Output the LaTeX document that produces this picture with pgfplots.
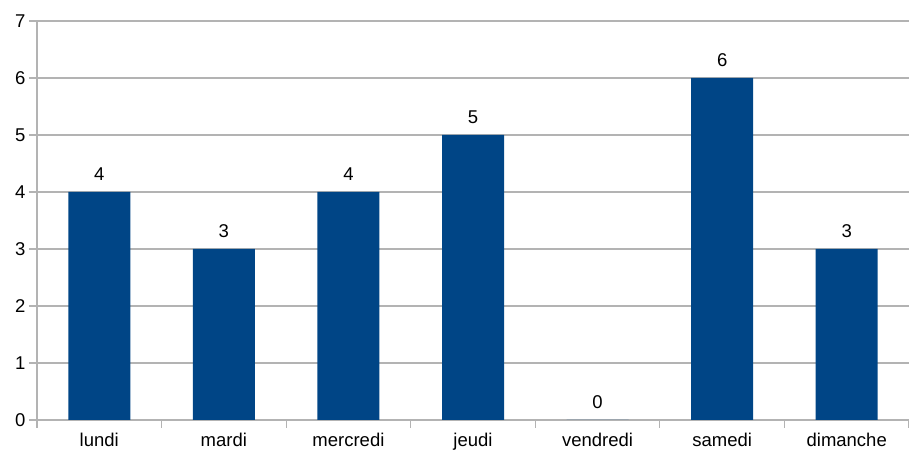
\documentclass[border=0pt]{standalone}
\usepackage{pgfplots}
\pgfplotsset{compat=1.18}
\usepackage{fontspec}
\setmainfont{Liberation Sans}
\definecolor{barblue}{HTML}{004586}
\definecolor{gridgray}{HTML}{B3B3B3}
\begin{document}
\begin{tikzpicture}
\path[use as bounding box] (-37pt,-34pt) rectangle (872pt,420pt);
\begin{axis}[
  at={(0,0)}, anchor=south west,
  scale only axis, width=872pt, height=399pt,
  xmin=-0.5, xmax=6.5, ymin=0, ymax=7,
  axis lines=left, axis line style={draw=gridgray, line width=1.2pt, -},
  xtick={0,...,6},
  xticklabels={lundi,mardi,mercredi,jeudi,vendredi,samedi,dimanche},
  minor xtick={-0.5,0.5,...,6.5},
  ytick={0,...,7},
  tick align=outside,
  major x tick style={draw=none},
  minor x tick style={draw=gridgray, line width=1.2pt},
  minor tick length=8pt,
  y tick style={draw=gridgray, line width=1.2pt},
  major tick length=8pt,
  ymajorgrids, grid style={draw=gridgray, line width=1.2pt},
  ticklabel style={font=\fontsize{18.5}{22}\selectfont, text=black},
  /pgf/number format/assume math mode=true,
  xticklabel style={yshift=-2pt},
  ybar, bar width=62pt,
  nodes near coords,
  every node near coord/.append style={font=\fontsize{18.5}{22}\selectfont, text=black, yshift=8pt},
  clip=false,
]
\addplot[fill=barblue, draw=none] coordinates {(0,4) (1,3) (2,4) (3,5) (4,0) (5,6) (6,3)};
\end{axis}
\end{tikzpicture}
\end{document}
